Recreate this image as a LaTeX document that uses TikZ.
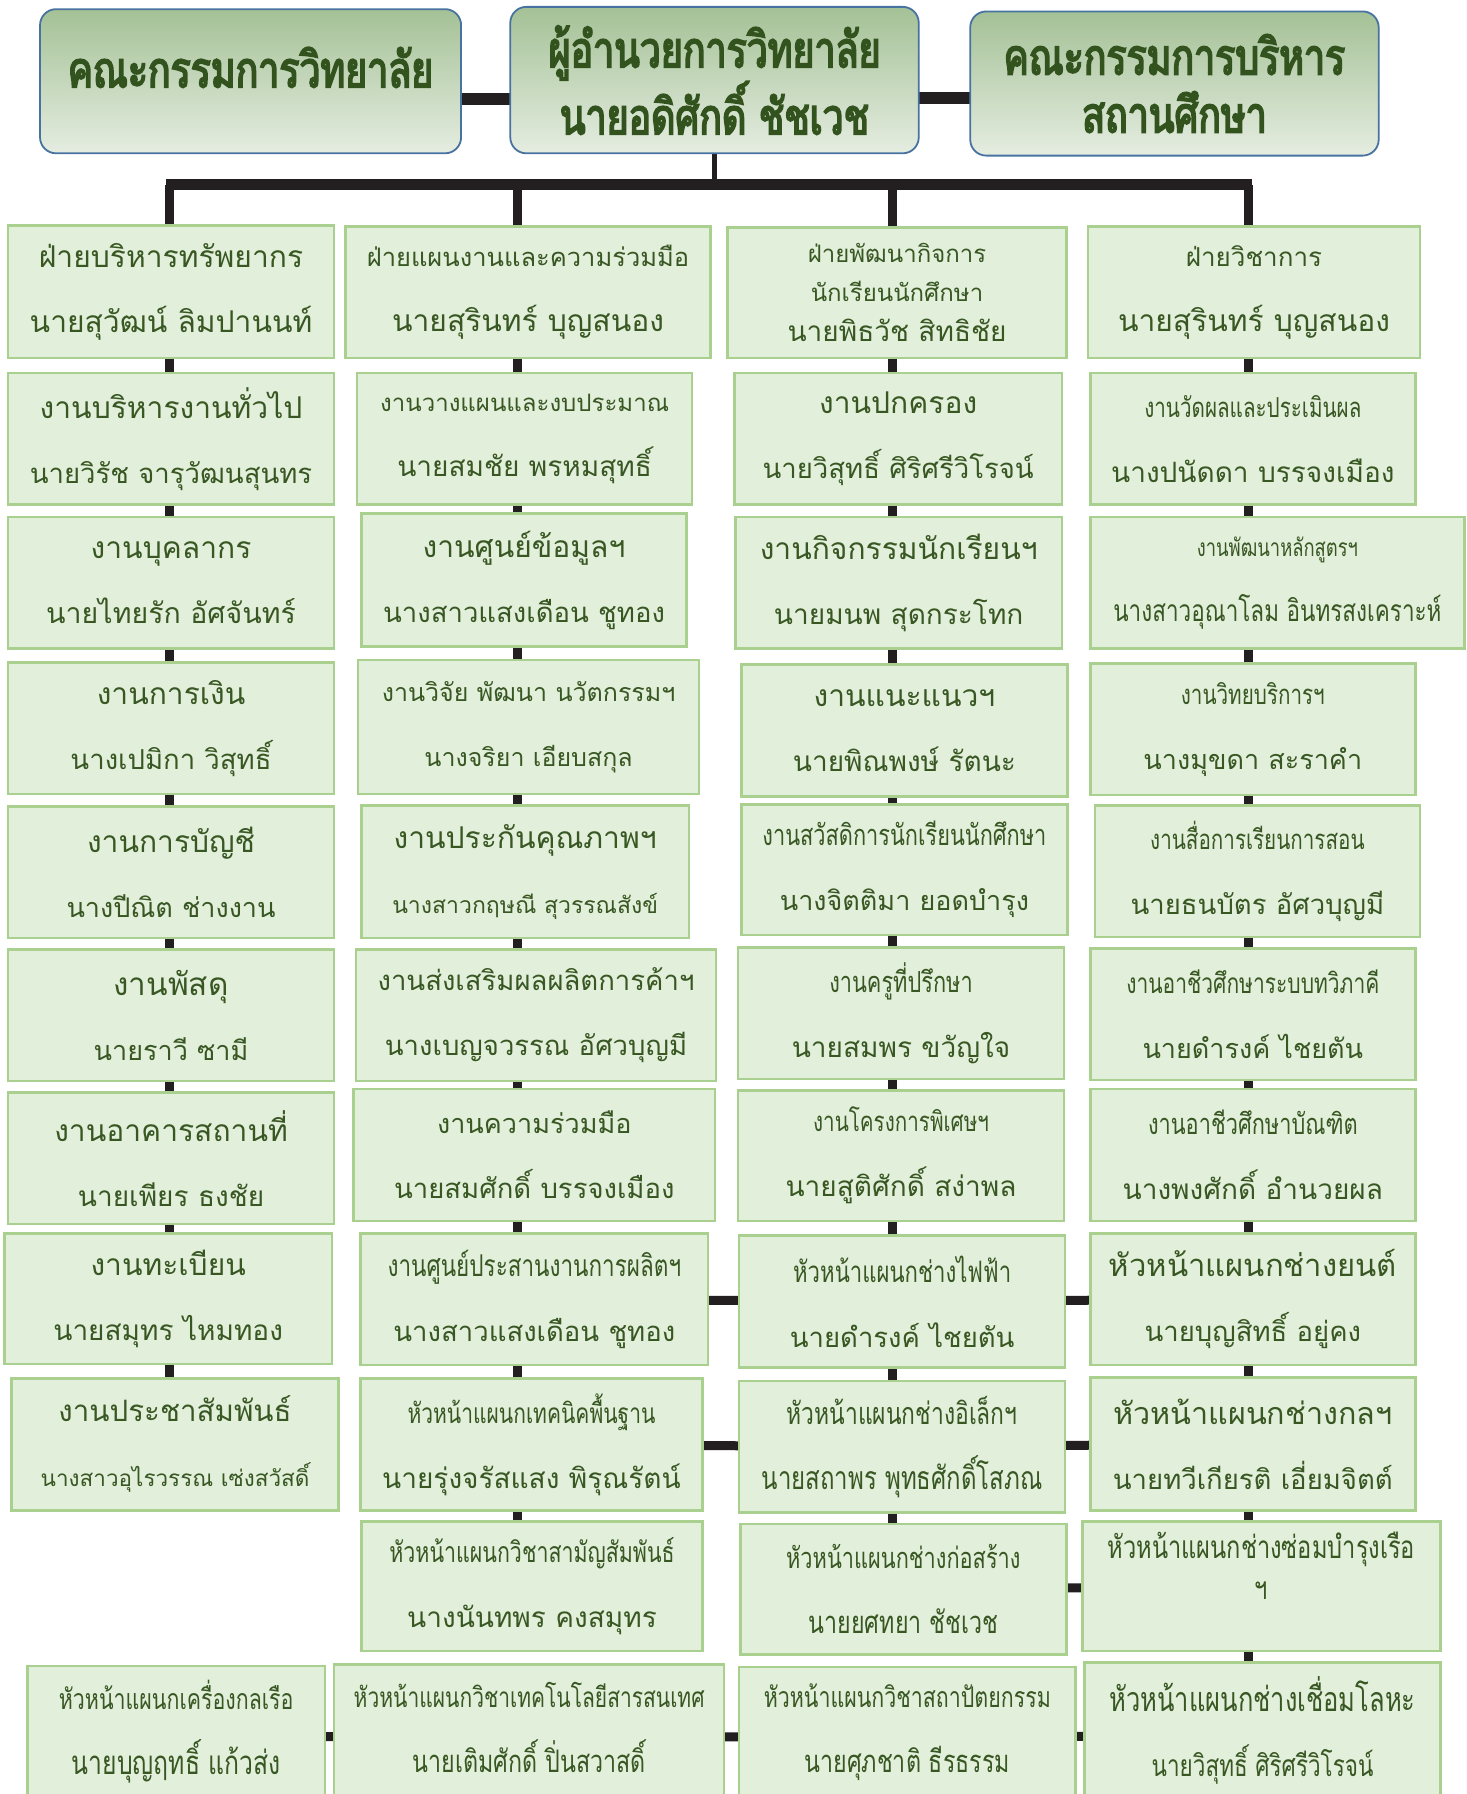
\documentclass[tikz,border=0pt]{standalone}
\usepackage{fontspec}
\newfontfamily\thai[Script=Thai]{Loma}
\newfontfamily\thainarrow[Script=Thai,FakeStretch=0.75]{Loma}
\newfontfamily\thaihead[Script=Thai,FakeStretch=0.75,FakeBold=3.5]{Loma}
\usetikzlibrary{backgrounds}
\definecolor{ink}{RGB}{56,87,35}
\definecolor{headink}{RGB}{50,82,30}
\definecolor{cellfill}{RGB}{226,239,218}
\definecolor{cellline}{RGB}{169,208,142}
\definecolor{headline}{RGB}{72,115,160}
\definecolor{headtop}{RGB}{164,193,150}
\definecolor{headbot}{RGB}{229,237,225}
\definecolor{wire}{RGB}{35,31,32}
\newcommand\rline[2]{{\thai\fontsize{#1}{65}\selectfont #2}}
\newcommand\nline[2]{{\thainarrow\fontsize{#1}{65}\selectfont #2}}
\begin{document}
\begin{tikzpicture}[x=1.1443pt,y=-1.1443pt]
\tikzset{
	head box/.style 2 args={rectangle,rounded corners=16pt,draw=headline,line width=1.8pt,top color=headtop,bottom color=headbot,minimum width=#1*1.1443pt,minimum height=#2*1.1443pt,inner sep=0pt,outer sep=0pt,align=center,text=headink,font=\thaihead\fontsize{50}{58}\selectfont},
	cell/.style 2 args={rectangle,draw=cellline,fill=cellfill,line width=2.5pt,minimum width=#1*1.1443pt,minimum height=#2*1.1443pt,inner sep=0pt,outer sep=0pt,align=center,text=ink,font=\thai\fontsize{30}{65}\selectfont},
	bus/.style={draw=wire,line width=11pt},
	drop/.style={draw=wire,line width=6pt},
	vlink/.style={draw=wire,line width=9pt},
	hlink/.style={draw=wire,line width=9pt}
}
\clip (0,0) rectangle (1282,1568);
\node[head box={368}{126}] (board) at (219,71) {คณะกรรมการวิทยาลัย\\[-30pt]\mbox{}};
\node[head box={357}{128}] (director) at (624.5,70) {ผู้อำนวยการวิทยาลัย\\นายอดิศักดิ์ ชัชเวช};
\node[head box={357}{126}] (exec) at (1026.5,73) {คณะกรรมการบริหาร\\สถานศึกษา};

\node[cell={285}{116}] (c1r1) at (149.5,255) {\rline{30}{ฝ่ายบริหารทรัพยากร}\\\rline{30}{นายสุวัฒน์ ลิมปานนท์}};
\node[cell={285}{115}] (c1r2) at (149.5,383.5) {\rline{30}{งานบริหารงานทั่วไป}\\\rline{27.5}{นายวิรัช จารุวัฒนสุนทร}};
\node[cell={285}{115}] (c1r3) at (149.5,509.5) {\rline{30}{งานบุคลากร}\\\rline{28.5}{นายไทยรัก อัศจันทร์}};
\node[cell={285}{115}] (c1r4) at (149.5,636.5) {\rline{30}{งานการเงิน}\\\rline{27.5}{นางเปมิกา วิสุทธิ์}};
\node[cell={285}{115}] (c1r5) at (149.5,762.5) {\rline{30}{งานการบัญชี}\\\rline{27}{นางปีณิต ช่างงาน}};
\node[cell={285}{115}] (c1r6) at (149.5,887.5) {\rline{31.5}{งานพัสดุ}\\\rline{27}{นายราวี ซามี}};
\node[cell={285}{115}] (c1r7) at (149.5,1012.5) {\rline{30}{งานอาคารสถานที่}\\\rline{28}{นายเพียร ธงชัย}};
\node[cell={286}{114}] (c1r8) at (147,1135) {\rline{30}{งานทะเบียน}\\\rline{28}{นายสมุทร ไหมทอง}};
\node[cell={286}{115}] (c1r9) at (153,1262.5) {\rline{29.5}{งานประชาสัมพันธ์}\\\rline{22.5}{นางสาวอุไรวรรณ เซ่งสวัสดิ์}};
\node[cell={260}{124}] (c1r11) at (154,1518) {\nline{28.5}{หัวหน้าแผนกเครื่องกลเรือ}\\\nline{33}{นายบุญฤทธิ์ แก้วส่ง}\\[-47pt]\mbox{}};

\node[cell={319}{115}] (c2r1) at (461.5,255.5) {\rline{25.5}{ฝ่ายแผนงานและความร่วมมือ}\\\rline{30}{นายสุรินทร์ บุญสนอง}};
\node[cell={293}{115}] (c2r2) at (458.5,383.5) {\rline{24}{งานวางแผนและงบประมาณ}\\\rline{28}{นายสมชัย พรหมสุทธิ์}};
\node[cell={284}{116}] (c2r3) at (458,507) {\rline{30}{งานศูนย์ข้อมูลฯ}\\\rline{27.5}{นางสาวแสงเดือน ชูทอง}};
\node[cell={298}{117}] (c2r4) at (462,635.5) {\rline{25}{งานวิจัย พัฒนา นวัตกรรมฯ}\\\rline{25}{นางจริยา เอียบสกุล}};
\node[cell={286}{116}] (c2r5) at (459,762) {\rline{30}{งานประกันคุณภาพฯ}\\\rline{23}{นางสาวกฤษณี สุวรรณสังข์}};
\node[cell={315}{115}] (c2r6) at (468.5,887.5) {\rline{27.5}{งานส่งเสริมผลผลิตการค้าฯ}\\\rline{27.5}{นางเบญจวรรณ อัศวบุญมี}};
\node[cell={316}{115}] (c2r7) at (467,1009.5) {\rline{27}{งานความร่วมมือ}\\\rline{27.5}{นายสมศักดิ์ บรรจงเมือง}};
\node[cell={304}{115}] (c2r8) at (467,1135.5) {\nline{30}{งานศูนย์ประสานงานการผลิตฯ}\\\rline{27.5}{นางสาวแสงเดือน ชูทอง}};
\node[cell={299}{115}] (c2r9) at (464.5,1262.5) {\nline{28}{หัวหน้าแผนกเทคนิคพื้นฐาน}\\\rline{28}{นายรุ่งจรัสแสง พิรุณรัตน์}};
\node[cell={298}{113}] (c2r10) at (465,1386.5) {\nline{28.5}{หัวหน้าแผนกวิชาสามัญสัมพันธ์}\\\rline{28}{นางนันทพร คงสมุทร}};
\node[cell={341}{125}] (c2r11) at (462.5,1517.5) {\nline{28}{หัวหน้าแผนกวิชาเทคโนโลยีสารสนเทศ}\\\nline{31}{นายเติมศักดิ์ ปิ่นสวาสดิ์}\\[-47pt]\mbox{}};

\node[cell={296}{114}] (c3r1) at (784,256) {\rline{24}{ฝ่ายพัฒนากิจการ}\\[-26pt]\rline{24}{นักเรียนนักศึกษา}\\[-25pt]\rline{28}{นายพิธวัช สิทธิชัย}};
\node[cell={286}{115}] (c3r2) at (785,383.5) {\rline{30}{งานปกครอง}\\\rline{27.5}{นายวิสุทธิ์ ศิริศรีวิโรจน์}};
\node[cell={285}{115}] (c3r3) at (785.5,509.5) {\rline{30}{งานกิจกรรมนักเรียนฯ}\\\rline{28}{นายมนพ สุดกระโทก}};
\node[cell={285}{115}] (c3r4) at (790.5,638.5) {\rline{30}{งานแนะแนวฯ}\\\rline{28}{นายพิณพงษ์ รัตนะ}};
\node[cell={285}{114}] (c3r5) at (790.5,760) {\nline{29}{งานสวัสดิการนักเรียนนักศึกษา}\\\rline{27}{นางจิตติมา ยอดบำรุง}};
\node[cell={285}{115}] (c3r6) at (787.5,885.5) {\nline{29}{งานครูที่ปรึกษา}\\\rline{28}{นายสมพร ขวัญใจ}};
\node[cell={285}{114}] (c3r7) at (787.5,1010) {\nline{27.5}{งานโครงการพิเศษฯ}\\\rline{28}{นายสูติศักดิ์ สง่าพล}};
\node[cell={285}{115}] (c3r8) at (788.5,1137.5) {\nline{29.5}{หัวหน้าแผนกช่างไฟฟ้า}\\\rline{27.5}{นายดำรงค์ ไชยตัน}};
\node[cell={285}{115}] (c3r9) at (788.5,1264.5) {\nline{30.5}{หัวหน้าแผนกช่างอิเล็กฯ}\\\nline{32}{นายสถาพร พุทธศักดิ์โสภณ}};
\node[cell={285}{114}] (c3r10) at (789.5,1389) {\nline{29}{หัวหน้าแผนกช่างก่อสร้าง}\\\nline{31}{นายยศทยา ชัชเวช}};
\node[cell={294}{123}] (c3r11) at (793,1518.5) {\nline{28.5}{หัวหน้าแผนกวิชาสถาปัตยกรรม}\\\nline{31}{นายศุภชาติ ธีรธรรม}\\[-47pt]\mbox{}};

\node[cell={290}{115}] (c4r1) at (1096,255.5) {\rline{26}{ฝ่ายวิชาการ}\\\rline{30}{นายสุรินทร์ บุญสนอง}};
\node[cell={284}{115}] (c4r2) at (1095,383.5) {\nline{27.5}{งานวัดผลและประเมินผล}\\\rline{28}{นางปนัดดา บรรจงเมือง}};
\node[cell={327}{115}] (c4r3) at (1116.5,509.5) {\nline{24.5}{งานพัฒนาหลักสูตรฯ}\\\nline{30}{นางสาวอุณาโลม อินทรสงเคราะห์}};
\node[cell={284}{115}] (c4r4) at (1095,637.5) {\nline{27.5}{งานวิทยบริการฯ}\\\rline{27}{นางมุขดา สะราคำ}};
\node[cell={284}{115}] (c4r5) at (1099,761.5) {\nline{27.5}{งานสื่อการเรียนการสอน}\\\rline{27.5}{นายธนบัตร อัศวบุญมี}};
\node[cell={284}{115}] (c4r6) at (1095,886.5) {\nline{28}{งานอาชีวศึกษาระบบทวิภาคี}\\\rline{27}{นายดำรงค์ ไชยตัน}};
\node[cell={284}{115}] (c4r7) at (1095,1009.5) {\nline{29}{งานอาชีวศึกษาบัณฑิต}\\\rline{28}{นางพงศักดิ์ อำนวยผล}};
\node[cell={284}{115}] (c4r8) at (1095,1135.5) {\rline{31}{หัวหน้าแผนกช่างยนต์}\\\rline{27.5}{นายบุญสิทธิ์ อยู่คง}};
\node[cell={284}{116}] (c4r9) at (1095,1262) {\rline{30.5}{หัวหน้าแผนกช่างกลฯ}\\\rline{27.5}{นายทวีเกียรติ เอี่ยมจิตต์}};
\node[cell={313}{113}] (c4r10) at (1102.5,1386.5) {\nline{31.5}{หัวหน้าแผนกช่างซ่อมบำรุงเรือ}\\[-24pt]\nline{31.5}{ฯ}\\[-24pt]\mbox{}};
\node[cell={311}{127}] (c4r11) at (1103.5,1516.5) {\nline{34}{หัวหน้าแผนกช่างเชื่อมโลหะ}\\\nline{30}{นายวิสุทธิ์ ศิริศรีวิโรจน์}\\[-47pt]\mbox{}};

\coordinate (busL) at (145,161.5);
\coordinate (busR) at (1094,161.5);
\coordinate (col1) at (148,161.5);
\coordinate (col2) at (452,161.5);
\coordinate (col3) at (780,161.5);
\coordinate (col4) at (1091,161.5);
\begin{scope}[on background layer]
\fill[white] (0,0) rectangle (1282,1568);
\draw[hlink,line width=12pt] ([yshift=-18pt]board.east) -- ([yshift=-18pt]board.east -| director.west);
\draw[hlink,line width=12pt] ([yshift=-18pt]director.east) -- ([yshift=-18pt]director.east -| exec.west);
\draw[drop,line width=5pt] (director.south) -- (director.south |- busL);
\draw[bus] (busL) -- (busR);
\draw[vlink] (col1) -- (col1 |- c1r9.center);
\draw[vlink] (col2) -- (col2 |- c2r10.center);
\draw[vlink] (col3) -- (col3 |- c3r10.center);
\draw[vlink] (col4) -- (col4 |- c4r11.center);
\draw[hlink] (c2r8) -- (c3r8);
\draw[hlink] (c3r8) -- (c4r8);
\draw[hlink] (c2r9) -- (c3r9);
\draw[hlink] (c3r9) -- (c4r9);
\draw[hlink] (c3r10) -- (c4r10);
\draw[hlink] (c1r11) -- (c2r11);
\draw[hlink] (c2r11) -- (c3r11);
\draw[hlink] (c3r11) -- (c4r11);
\end{scope}
\end{tikzpicture}
\end{document}
